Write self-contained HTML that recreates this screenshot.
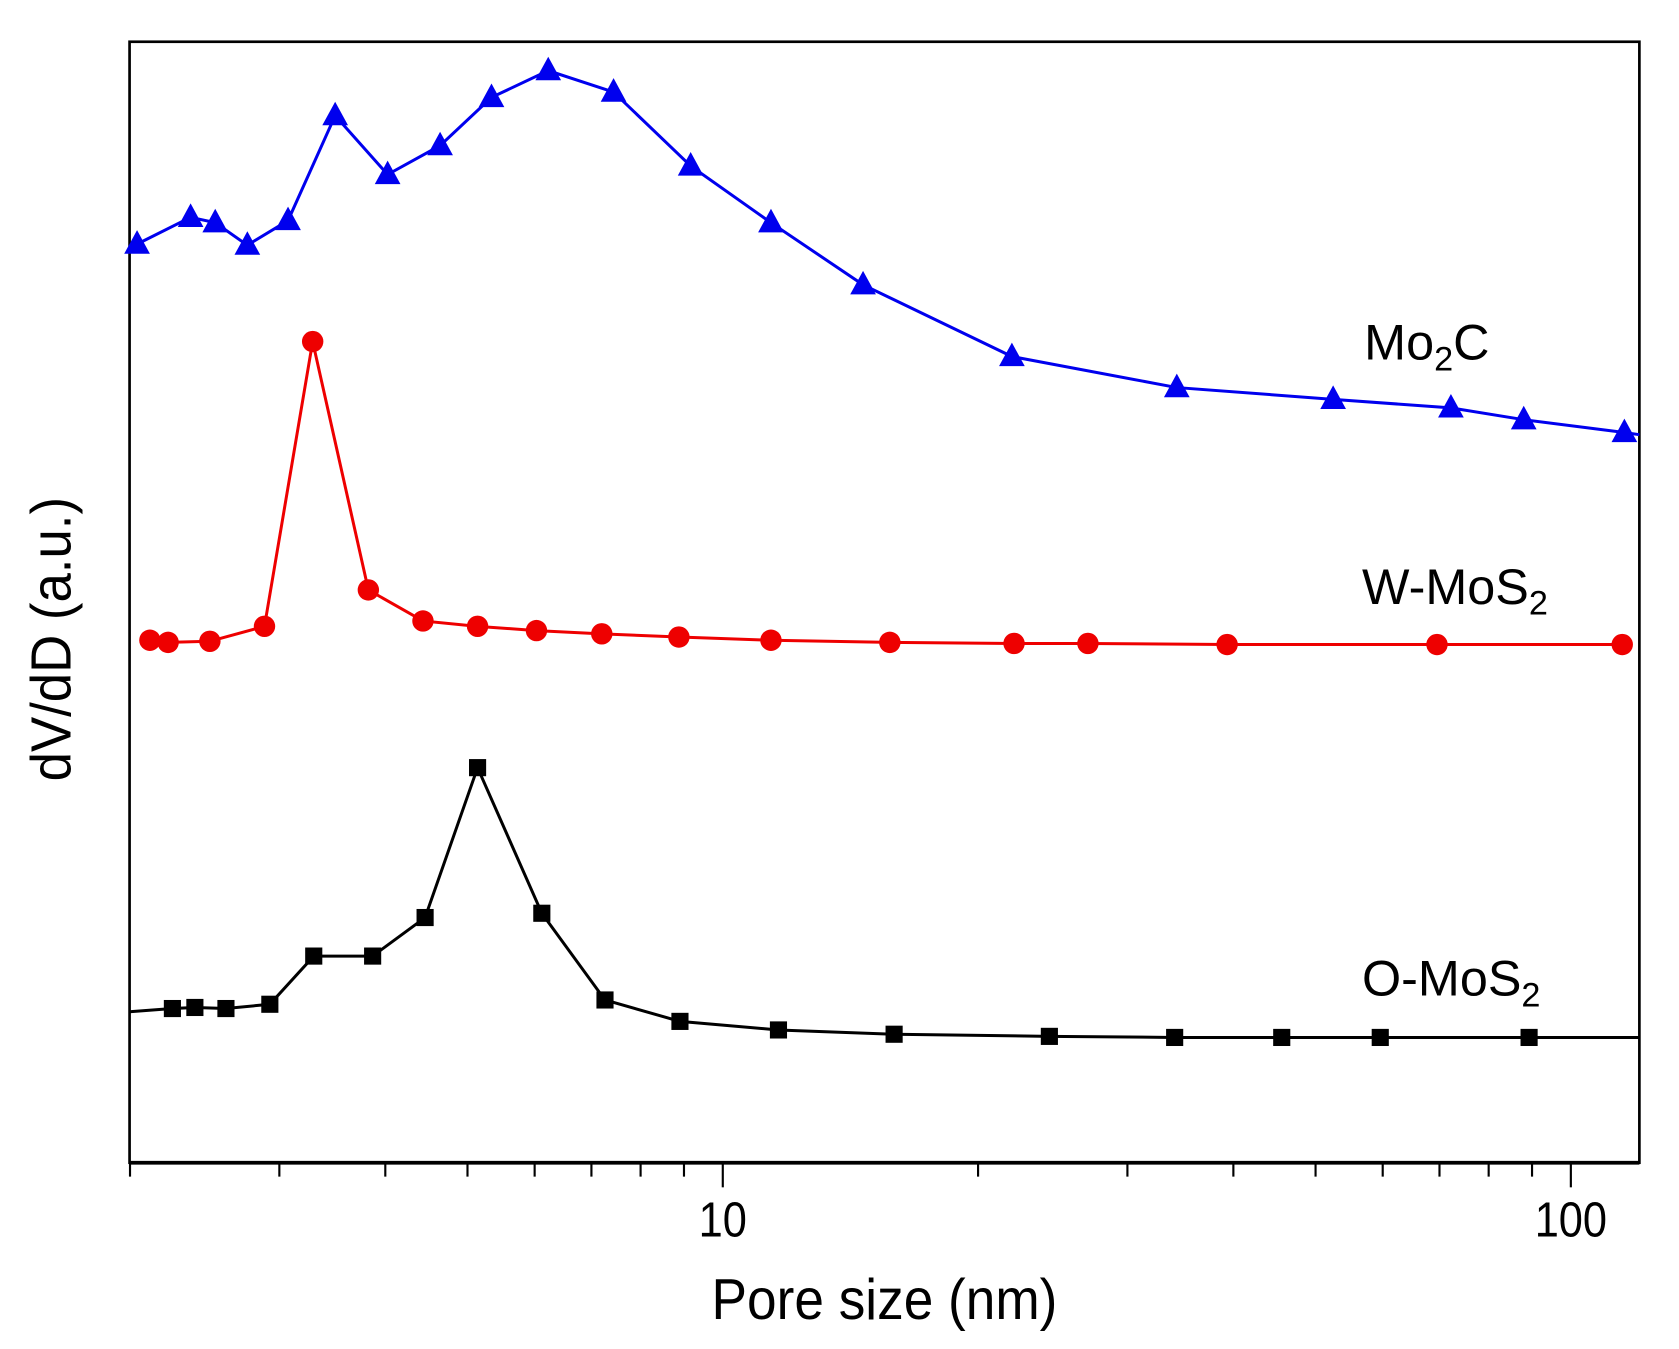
<!DOCTYPE html>
<html><head><meta charset="utf-8"><style>html,body{margin:0;padding:0;background:#fff}svg{display:block}</style></head>
<body>
<svg id="s" width="1679" height="1349" viewBox="0 0 1568 1260" preserveAspectRatio="none" xmlns="http://www.w3.org/2000/svg" font-family="Liberation Sans, sans-serif">
<rect x="121" y="39" width="1410" height="1047" fill="none" stroke="#000" stroke-width="2.5"/>
<line x1="121" y1="1086" x2="1531" y2="1086" stroke="#000" stroke-width="3.5"/>
<g id="ticks" stroke="#000" stroke-width="2"></g>
<text x="675" y="1155" font-size="46" text-anchor="middle" transform="translate(675 0) scale(0.88 1) translate(-675 0)">10</text>
<text x="1467" y="1155" font-size="46" text-anchor="middle" transform="translate(1467 0) scale(0.88 1) translate(-1467 0)">100</text>
<text x="826" y="1232" font-size="54" text-anchor="middle" transform="translate(826 0) scale(0.92 1) translate(-826 0)">Pore size (nm)</text>
<text x="0" y="0" font-size="53" text-anchor="middle" transform="translate(66 597) rotate(-90) scale(0.93 1)">dV/dD (a.u.)</text>
<polyline fill="none" stroke="#0000ee" stroke-width="2.8" points="121,232 128,228 178,203 201,208 231,229 269,206 313,108 362,163 411,136 459,91 512,66 573,86 645,155 720,208 806,266 945,333 1099,362 1245,373 1355,381 1423,392 1517,404 1531,406"/>
<g id="tri" fill="#0000ee"></g>
<polyline fill="none" stroke="#ee0000" stroke-width="2.8" points="140,598 157,600 196,599 247,585 292,319 344,551 395,580 446,585 501,589 562,592 634,595 720,598 831,600 947,601 1016,601 1146,602 1342,602 1515,602"/>
<g id="cir" fill="#ee0000"></g>
<polyline fill="none" stroke="#000" stroke-width="2.8" points="121,945 161,942 182,941 211,942 252,938 293,893 348,893 397,857 446,717 506,853 565,934 635,954 727,962 835,966 980,968 1097,969 1197,969 1289,969 1428,969 1531,969"/>
<g id="sq" fill="#000"></g>
<text x="1274" y="336" font-size="47">Mo<tspan font-size="32" dy="10">2</tspan><tspan dy="-10">C</tspan></text>
<text x="1272" y="564" font-size="47">W-MoS<tspan font-size="32" dy="10">2</tspan></text>
<text x="1272" y="930" font-size="47">O-MoS<tspan font-size="32" dy="10">2</tspan></text>
</svg>
<script>
var NS="http://www.w3.org/2000/svg";
function el(p,t,a){var e=document.createElementNS(NS,t);for(var k in a)e.setAttribute(k,a[k]);document.getElementById(p).appendChild(e);}
[2,3,4,5,6,7,8,9,10,20,30,40,50,60,70,80,90,100].forEach(function(v){var x=675+792*(Math.log10(v)-1);var maj=(v==10||v==100);el("ticks","line",{x1:x,x2:x,y1:1086,y2:1086+(maj?23:13)});});
var T=[[128,228],[178,203],[201,208],[231,229],[269,206],[313,108],[362,163],[411,136],[459,91],[512,66],[573,86],[645,155],[720,208],[806,266],[945,333],[1099,362],[1245,373],[1355,381],[1423,392],[1517,404]];
T.forEach(function(p){var x=p[0],y=p[1];el("tri","polygon",{points:(x-12)+","+(y+9)+" "+(x+12)+","+(y+9)+" "+x+","+(y-13)});});
var C=[[140,598],[157,600],[196,599],[247,585],[292,319],[344,551],[395,580],[446,585],[501,589],[562,592],[634,595],[720,598],[831,600],[947,601],[1016,601],[1146,602],[1342,602],[1515,602]];
C.forEach(function(p){el("cir","circle",{cx:p[0],cy:p[1],r:10});});
var S=[[161,942],[182,941],[211,942],[252,938],[293,893],[348,893],[397,857],[446,717],[506,853],[565,934],[635,954],[727,962],[835,966],[980,968],[1097,969],[1197,969],[1289,969],[1428,969]];
S.forEach(function(p){el("sq","rect",{x:p[0]-8,y:p[1]-8,width:16,height:16});});
</script>
</body></html>
